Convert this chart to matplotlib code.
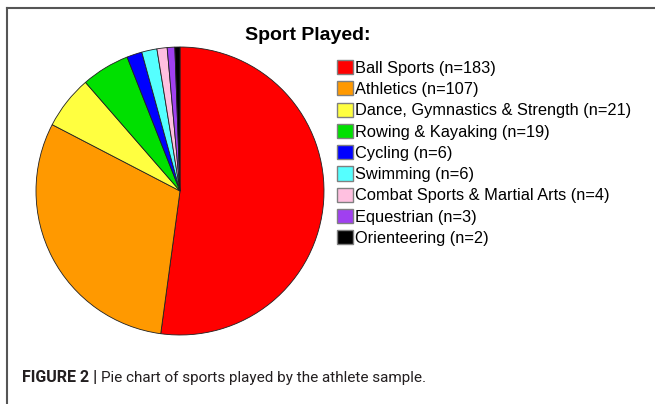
import matplotlib
matplotlib.use("Agg")
import matplotlib.pyplot as plt
from matplotlib.lines import Line2D

categories = ["Ball Sports", "Athletics", "Dance, Gymnastics & Strength",
              "Rowing & Kayaking", "Cycling", "Swimming",
              "Combat Sports & Martial Arts", "Equestrian", "Orienteering"]
counts = [183, 107, 21, 19, 6, 6, 4, 3, 2]
colors = ["#FF0000", "#FF9900", "#FFFF40", "#00E000", "#0000FF",
          "#55FFFF", "#FFC0E0", "#A040F0", "#000000"]
title = "Sport Played:"
caption_bold = "FIGURE 2 |"
caption_text = "Pie chart of sports played by the athlete sample."

plt.rcParams['font.family'] = ['Liberation Sans', 'DejaVu Sans']

W, H = 655, 404
fig = plt.figure(figsize=(W / 100, H / 100), dpi=100)

# pie axes
cx, cy, r = 180, 191, 144
ax = fig.add_axes([(cx - r) / W, 1 - (cy + r) / H, 2 * r / W, 2 * r / H])
wedges, _ = ax.pie(counts, colors=colors, startangle=90, counterclock=False,
                   wedgeprops=dict(edgecolor="#202020", linewidth=0.6))
ax.set_xlim(-1.0, 1.0)
ax.set_ylim(-1.0, 1.0)
ax.set_aspect("equal")
ax.axis("off")

labels = [f"{c} (n={n})" for c, n in zip(categories, counts)]
leg = fig.legend(wedges, labels, loc="upper left",
                 bbox_to_anchor=(337 / W, 1 - 60 / H),
                 frameon=False, fontsize=11.8, handlelength=0.95,
                 handleheight=0.95, handletextpad=0.15, labelspacing=0.34,
                 borderaxespad=0, borderpad=0)
for h in leg.legend_handles:
    h.set_edgecolor("#808080")
    h.set_linewidth(1.0)

fig.text(308 / W, 1 - 35 / H, title, ha="center", va="center",
         fontsize=14, fontweight="bold")

# caption
cap_font = ['Roboto', 'Liberation Sans']
t1 = fig.text(22 / W, 1 - 378 / H, caption_bold, ha="left", va="center",
              fontsize=11.5, fontweight="bold", color="#231F20",
              family=cap_font)
fig.canvas.draw()
bb = t1.get_window_extent()
fig.text((bb.x1 + 4) / W, 1 - 378 / H, caption_text, ha="left", va="center",
         fontsize=11, color="#231F20", family=cap_font)

# frame lines
fig.add_artist(Line2D([7 / W, 1.0], [1 - 8 / H, 1 - 8 / H], color="#555555",
                      linewidth=1.5, transform=fig.transFigure))
fig.add_artist(Line2D([7 / W, 7 / W], [1 - 8 / H, 0.0], color="#555555",
                      linewidth=1.5, transform=fig.transFigure))

fig.savefig("out.png", dpi=100)
